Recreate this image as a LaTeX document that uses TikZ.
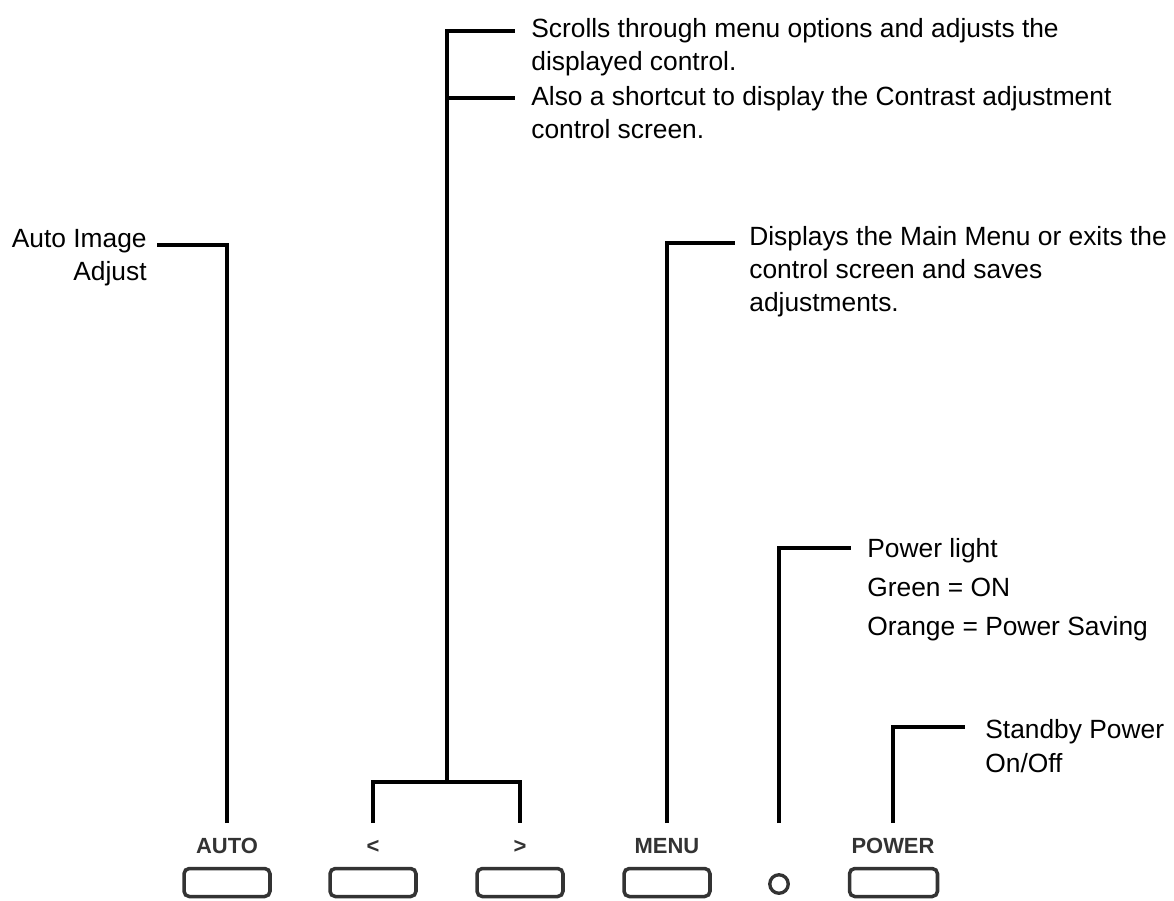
\documentclass[tikz,border=0pt]{standalone}
\usepackage{fontspec}
\setmainfont{Liberation Sans}
\usetikzlibrary{positioning}
\definecolor{keygray}{RGB}{51,51,51}
\tikzset{
  leader/.style={line width=1.8pt},
  keybtn/.style={draw=keygray,line width=2pt,rounded corners=3pt,minimum width=1.72cm,minimum height=0.56cm,inner sep=0pt},
  keylbl/.style={font=\bfseries\fontsize{12.5}{14}\selectfont,text=keygray,inner sep=0pt,anchor=base},
  note/.style={font=\fontsize{15}{18.7}\selectfont,align=left,inner sep=0pt,anchor=base west},
}
\begin{document}
\begin{tikzpicture}[x=0.02cm,y=-0.02cm]
    \useasboundingbox (0,0) rectangle (1174,900);
    % keys along the bottom edge
    \node[keybtn] (autobtn) at (227,882.5) {};
    \node[keybtn] (prevbtn) at (373,882.5) {};
    \node[keybtn] (nextbtn) at (520,882.5) {};
    \node[keybtn] (menubtn) at (667,882.5) {};
    \node[circle,draw=keygray,line width=1.9pt,minimum size=0.37cm,inner sep=0pt] (led) at (779,884) {};
    \node[keybtn,minimum width=1.76cm] (powerbtn) at (893.5,882.5) {};
    \node[keylbl] (autolbl) at (227,853) {AUTO};
    \node[keylbl] (prevlbl) at (373,853) {<};
    \node[keylbl] (nextlbl) at (520,853) {>};
    \node[keylbl] (menulbl) at (667,853) {MENU};
    \node[keylbl] (powerlbl) at (893,853) {POWER};
    % AUTO
    \coordinate (autofoot) at (227,823);
    \coordinate (autoend) at (157,245);
    \draw[leader] (autofoot) |- (autoend);
    \node[note,align=right,anchor=base east] (autotxt) at (147,280) {Auto Image\\Adjust};
    % < and >
    \coordinate (prevfoot) at (373,823);
    \coordinate (nextfoot) at (520,823);
    \coordinate (arrowjoin) at (447,782);
    \coordinate (scrollend) at (515,31);
    \coordinate (contrastend) at (515,98);
    \draw[leader] (prevfoot) |- (arrowjoin) -| (nextfoot);
    \draw[leader] (arrowjoin) |- (scrollend);
    \draw[leader] (arrowjoin |- contrastend) -- (contrastend);
    \node[note] (scrolltxt) at (531,70) {Scrolls through menu options and adjusts the\\displayed control.};
    \node[note] (contrasttxt) at (531,138) {Also a shortcut to display the Contrast adjustment\\control screen.};
    % MENU
    \coordinate (menufoot) at (667,823);
    \coordinate (menuend) at (735,243);
    \draw[leader] (menufoot) |- (menuend);
    \node[note] (menutxt) at (749,311) {Displays the Main Menu or exits the\\control screen and saves\\adjustments.};
    % power light
    \coordinate (ledfoot) at (779,823);
    \coordinate (ledend) at (851,548);
    \draw[leader] (ledfoot) |- (ledend);
    \node[note,font=\fontsize{15}{22}\selectfont] (ledtxt) at (867,635) {Power light\\Green = ON\\Orange = Power Saving};
    % POWER
    \coordinate (powerfoot) at (893,823);
    \coordinate (powerend) at (965,727);
    \draw[leader] (powerfoot) |- (powerend);
    \node[note,font=\fontsize{15}{19.3}\selectfont] (powertxt) at (985,772) {Standby Power\\On/Off};
\end{tikzpicture}
\end{document}
